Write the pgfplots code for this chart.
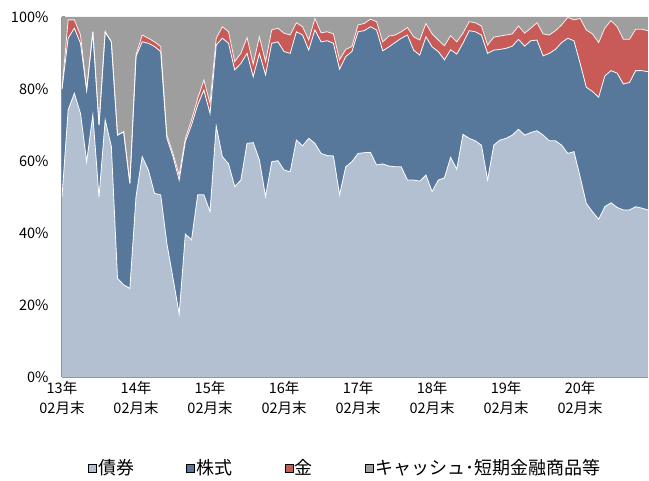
\documentclass[border=0pt]{standalone}
\usepackage{pgfplots}
\pgfplotsset{compat=1.18}
\usepackage{pgfplotstable}
\usepackage{fontspec}
\setmainfont{Noto Sans CJK JP}
\definecolor{bondc}{RGB}{178,192,210}
\definecolor{stockc}{RGB}{87,120,155}
\definecolor{goldc}{RGB}{200,90,88}
\definecolor{cashc}{RGB}{158,158,158}
\definecolor{axc}{RGB}{150,150,150}
\pgfplotstableread{
i B S G T
0 50 80 80 100
1 74.2 94.1 99.2 100
2 78.8 96.9 99.2 100
3 73.2 92.7 95 100
4 59.8 79.7 79.7 100
5 72.8 95.9 95.9 100
6 49.9 70 70 100
7 71.4 95.9 95.9 100
8 64 93.1 93.1 100
9 27.4 67.2 67.2 100
10 25.6 68.1 68.1 100
11 24.6 53.8 53.8 100
12 50.1 89 89.5 100
13 61.2 93.1 95 100
14 57.5 92.7 94.1 100
15 51 91.8 93.1 100
16 50.6 90.4 91.8 100
17 37.1 66.3 67.2 100
18 27.4 61.2 62.1 100
19 17.5 54.7 56.1 100
20 39.7 65.4 66.3 100
21 38.1 70 71.4 100
22 50.6 75.6 77.4 100
23 50.6 79.7 82.5 100
24 45.9 73.2 76 100
25 69.7 92.2 94.1 100
26 61.2 94.1 97.3 100
27 59.2 92.7 95.9 100
28 52.9 85.3 87.6 100
29 54.7 87.1 89.9 100
30 64.9 89.9 94.3 100
31 65.1 83.4 86.9 100
32 60.3 89.9 94.5 100
33 50.1 83.9 87.6 100
34 59.8 92.7 96.4 100
35 60.1 93.1 96.9 100
36 57.5 90.4 95.5 100
37 57 89.9 95 100
38 65.8 95.9 98.4 100
39 64.2 95 97.3 100
40 66.3 90.8 93.6 100
41 64.9 96.4 99.6 100
42 62.1 93.1 95.6 100
43 61.5 93.4 95.9 100
44 61.4 92.7 95.3 100
45 50.6 85.5 88.1 100
46 58.4 89 91 100
47 59.8 90.4 91.8 100
48 62.1 95.9 97.8 100
49 62.3 96.2 98.2 100
50 62.4 97.3 99.4 100
51 58.9 96.4 98.7 100
52 59.2 90.6 93.1 100
53 58.6 91.7 94.7 100
54 58.4 92.9 95 100
55 58.4 94.1 95.9 100
56 54.7 95 97.1 100
57 54.7 90.8 94.5 100
58 54.4 89.4 93.6 100
59 56.1 94.5 98.2 100
60 51.5 91.7 95.3 100
61 54.7 90.4 93.6 100
62 55.3 88.1 92 100
63 61 90.9 94.8 100
64 57.7 89.7 93.1 100
65 67.4 92.7 95.5 100
66 66.3 96.2 98.7 100
67 65.6 95.9 98.4 100
68 64.4 95 97.5 100
69 54.7 89.9 92.2 100
70 64.4 90.8 94.4 100
71 65.8 91 94.7 100
72 66.3 91.3 95 100
73 67.2 91.9 95.3 100
74 68.8 93.8 97.5 100
75 67.2 91.9 95.5 100
76 67.9 93.4 96.9 100
77 68.4 93.6 98.4 100
78 67.2 89.2 95.3 100
79 65.6 89.9 95 100
80 65.6 91 96.2 100
81 64.4 92.9 97.8 100
82 62.1 94.1 99.9 100
83 62.6 93.4 99.2 100
84 55.6 87.1 99.6 100
85 48.2 80.5 96.4 100
86 45.9 79.3 95.3 100
87 43.8 77.7 92.9 100
88 47.3 83.6 96.9 100
89 48.4 85.1 99 100
90 47.1 84.4 97.3 100
91 46.4 81.4 93.8 100
92 46.4 81.8 93.8 100
93 47.3 85.1 96.6 100
94 46.9 85.1 96.6 100
95 46.4 84.8 96.2 100
}\data

\begin{document}
\begin{tikzpicture}[x=1pt,y=1pt]
\useasboundingbox (-62,-104) rectangle (587,377);
\begin{axis}[
  at={(0,0)}, anchor=south west,
  scale only axis, width=586pt, height=360pt,
  xmin=0, xmax=95, ymin=0, ymax=100,
  axis x line*=bottom, axis y line*=left,
  x axis line style={draw=axc, line width=2.5pt, -},
  y axis line style={draw=axc, line width=2pt, -},
  tick align=inside, major tick length=3pt,
  tick style={draw=axc, line width=1pt},
  xtick={0,12,24,36,48,60,72,84},
  xticklabels={{13年\\02月末},{14年\\02月末},{15年\\02月末},{16年\\02月末},{17年\\02月末},{18年\\02月末},{19年\\02月末},{20年\\02月末}},
  xticklabel style={align=center, font=\fontsize{14.5}{20}\selectfont, yshift=-1pt},
  ytick={0,20,40,60,80,100},
  yticklabels={0\%,20\%,40\%,60\%,80\%,100\%},
  yticklabel style={font=\fontsize{14.5}{16}\selectfont, xshift=-10pt},
  legend columns=4,
  legend style={at={(0.483,-0.253)}, anchor=center, draw=none, fill=none,
    font=\fontsize{18}{19}\selectfont,
    /tikz/every even column/.append style={column sep=50pt}},
  legend image code/.code={\fill[#1] (0pt,-4pt) rectangle (8pt,4pt);},
  clip=true,
]
\addplot[fill=cashc, draw=none, forget plot] table[x=i,y=T]{\data} \closedcycle;
\addplot[fill=goldc, draw=none, forget plot] table[x=i,y=G]{\data} \closedcycle;
\addplot[fill=stockc, draw=none, forget plot] table[x=i,y=S]{\data} \closedcycle;
\addplot[fill=bondc, draw=none, forget plot] table[x=i,y=B]{\data} \closedcycle;
\addplot[draw=white!90!goldc, line width=0.8pt, forget plot] table[x=i,y=G]{\data};
\addplot[draw=white, line width=0.8pt, forget plot] table[x=i,y=S]{\data};
\addplot[draw=white, line width=0.8pt, forget plot] table[x=i,y=B]{\data};
\addlegendimage{fill=bondc}
\addlegendentry{債券}
\addlegendimage{fill=stockc}
\addlegendentry{株式}
\addlegendimage{fill=goldc}
\addlegendentry{金}
\addlegendimage{fill=cashc}
\addlegendentry{キャッシュ･短期金融商品等}
\end{axis}
\end{tikzpicture}
\end{document}
